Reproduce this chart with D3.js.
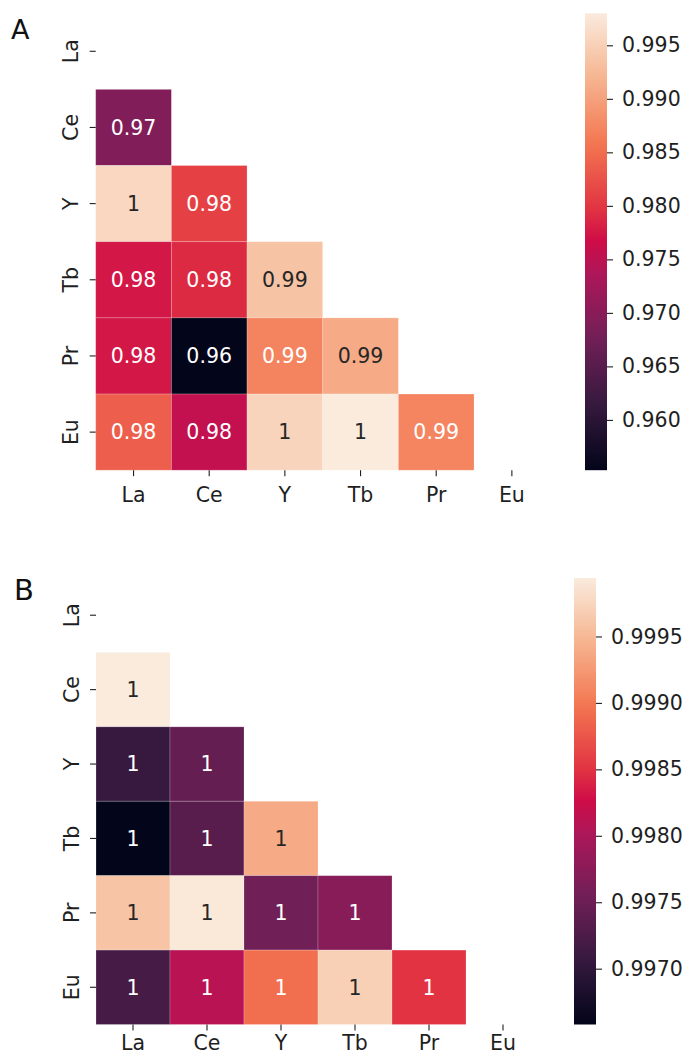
<!DOCTYPE html>
<html>
<head>
<meta charset="utf-8">
<script src="https://cdn.jsdelivr.net/npm/d3@7"></script>
<style>
  html, body { margin: 0; padding: 0; background: #fff; }
  svg { display: block; }
  text { font-family: "DejaVu Sans", sans-serif; }
</style>
</head>
<body>
<svg id="chart" width="682" height="1055"></svg>
<script>
// ---- data ----
const labels = ["La", "Ce", "Y", "Tb", "Pr", "Eu"];

// lower triangle (row i has values for columns 0..i-1)
const corrA = [
  [],
  [0.9692],
  [0.9958, 0.9810],
  [0.9775, 0.9790, 0.9936],
  [0.9775, 0.9553, 0.9872, 0.9910],
  [0.9837, 0.9756, 0.9955, 0.9980, 0.9873]
];
const corrB = [
  [],
  [0.99994],
  [0.99708, 0.99744],
  [0.99658, 0.99735, 0.99938],
  [0.99960, 0.99991, 0.99755, 0.99772],
  [0.99720, 0.99811, 0.99893, 0.99970, 0.99850]
];
const ticksA = [0.960, 0.965, 0.970, 0.975, 0.980, 0.985, 0.990, 0.995];
const ticksB = [0.9970, 0.9975, 0.9980, 0.9985, 0.9990, 0.9995];

// seaborn "rocket" colormap control colours (position 0..1)
const rocketPos = [0, 0.1429, 0.2857, 0.4286, 0.5, 0.5714, 0.7143, 0.8571, 1];
const rocketCols = ["#03051a", "#35193e", "#701f57", "#ad1759", "#ce0c48", "#e13342", "#f37651", "#f6b48f", "#faebdd"];

// ---- layout ----
const panels = [
  { letter: "A", data: corrA, ticks: ticksA, fmt: ".3f",
    gx: 95.7, gy: 13.2, gw: 454, gh: 457, xlabOff: 32,
    cbx: 585, cbw: 22, letterX: 11, letterY: 39, letterSize: 27 },
  { letter: "B", data: corrB, ticks: ticksB, fmt: ".4f",
    gx: 96, gy: 578, gw: 444, gh: 446.5, xlabOff: 25,
    cbx: 574, cbw: 22, letterX: 14, letterY: 600, letterSize: 29 }
];

const svg = d3.select("#chart");
const textColor = "#1f1f1f";
const fontSize = 20.5;

function relLum(c) {
  const rgb = d3.rgb(c);
  const f = v => { v /= 255; return v <= 0.03928 ? v / 12.92 : Math.pow((v + 0.055) / 1.055, 2.4); };
  return 0.2126 * f(rgb.r) + 0.7152 * f(rgb.g) + 0.0722 * f(rgb.b);
}

const annotFmt = d3.format(".2~g");

panels.forEach((p, pi) => {
  const cells = [];
  p.data.forEach((row, i) => row.forEach((v, j) => cells.push({ r: labels[i], c: labels[j], v })));
  const vals = cells.map(d => d.v);
  const vmin = d3.min(vals), vmax = d3.max(vals);

  const cmap = d3.scaleLinear()
    .domain(rocketPos.map(t => vmin + (vmax - vmin) * t))
    .range(rocketCols)
    .interpolate(d3.interpolateRgb)
    .clamp(true);

  const x = d3.scaleBand().domain(labels).range([p.gx, p.gx + p.gw]);
  const y = d3.scaleBand().domain(labels).range([p.gy, p.gy + p.gh]);

  const g = svg.append("g");

  g.selectAll("rect.cell").data(cells).enter().append("rect")
    .attr("class", "cell")
    .attr("x", d => x(d.c))
    .attr("y", d => y(d.r))
    .attr("width", x.bandwidth())
    .attr("height", y.bandwidth())
    .attr("fill", d => cmap(d.v))
    .attr("stroke", "#ffffff")
    .attr("stroke-opacity", 0.25)
    .attr("stroke-width", 0.8);

  g.selectAll("text.annot").data(cells).enter().append("text")
    .attr("class", "annot")
    .attr("x", d => x(d.c) + x.bandwidth() / 2)
    .attr("y", d => y(d.r) + y.bandwidth() / 2)
    .attr("dy", "0.36em")
    .attr("text-anchor", "middle")
    .attr("font-size", fontSize)
    .attr("fill", d => relLum(cmap(d.v)) > 0.408 ? "#262626" : "#ffffff")
    .text(d => annotFmt(d.v));

  // y axis
  const yAxis = g.append("g")
    .attr("transform", `translate(${p.gx},0)`)
    .call(d3.axisLeft(y).tickSize(6).tickPadding(0));
  yAxis.select(".domain").remove();
  yAxis.selectAll(".tick line").attr("stroke", textColor).attr("stroke-width", 1.1);
  yAxis.selectAll(".tick text")
    .attr("font-size", fontSize)
    .attr("font-family", "DejaVu Sans")
    .attr("fill", textColor)
    .attr("x", 0).attr("y", -17.5).attr("dy", 0)
    .attr("text-anchor", "middle")
    .attr("transform", "rotate(-90)");

  // x axis
  const xAxis = g.append("g")
    .attr("transform", `translate(0,${p.gy + p.gh})`)
    .call(d3.axisBottom(x).tickSize(6).tickPadding(0));
  xAxis.select(".domain").remove();
  xAxis.selectAll(".tick line").attr("stroke", textColor).attr("stroke-width", 1.1);
  xAxis.selectAll(".tick text")
    .attr("font-size", fontSize)
    .attr("font-family", "DejaVu Sans")
    .attr("fill", textColor)
    .attr("y", p.xlabOff).attr("dy", 0);

  // colorbar
  const gradId = "grad" + pi;
  const grad = svg.append("defs").append("linearGradient")
    .attr("id", gradId).attr("x1", 0).attr("y1", 1).attr("x2", 0).attr("y2", 0);
  d3.range(0, 1.0001, 0.01).forEach(t => {
    grad.append("stop").attr("offset", t).attr("stop-color", cmap(vmin + t * (vmax - vmin)));
  });
  g.append("rect")
    .attr("x", p.cbx).attr("y", p.gy)
    .attr("width", p.cbw).attr("height", p.gh)
    .attr("fill", `url(#${gradId})`);

  const cscale = d3.scaleLinear().domain([vmin, vmax]).range([p.gy + p.gh, p.gy]);
  const cAxis = g.append("g")
    .attr("transform", `translate(${p.cbx + p.cbw},0)`)
    .call(d3.axisRight(cscale).tickValues(p.ticks).tickFormat(d3.format(p.fmt)).tickSize(6).tickPadding(9));
  cAxis.select(".domain").remove();
  cAxis.selectAll(".tick line").attr("stroke", textColor).attr("stroke-width", 1.1);
  cAxis.selectAll(".tick text")
    .attr("font-size", fontSize)
    .attr("font-family", "DejaVu Sans")
    .attr("fill", textColor);

  // panel letter
  svg.append("text")
    .attr("x", p.letterX).attr("y", p.letterY)
    .attr("font-family", "Open Sans, sans-serif")
    .attr("font-size", p.letterSize)
    .attr("fill", "#111")
    .text(p.letter);
});
</script>
</body>
</html>
